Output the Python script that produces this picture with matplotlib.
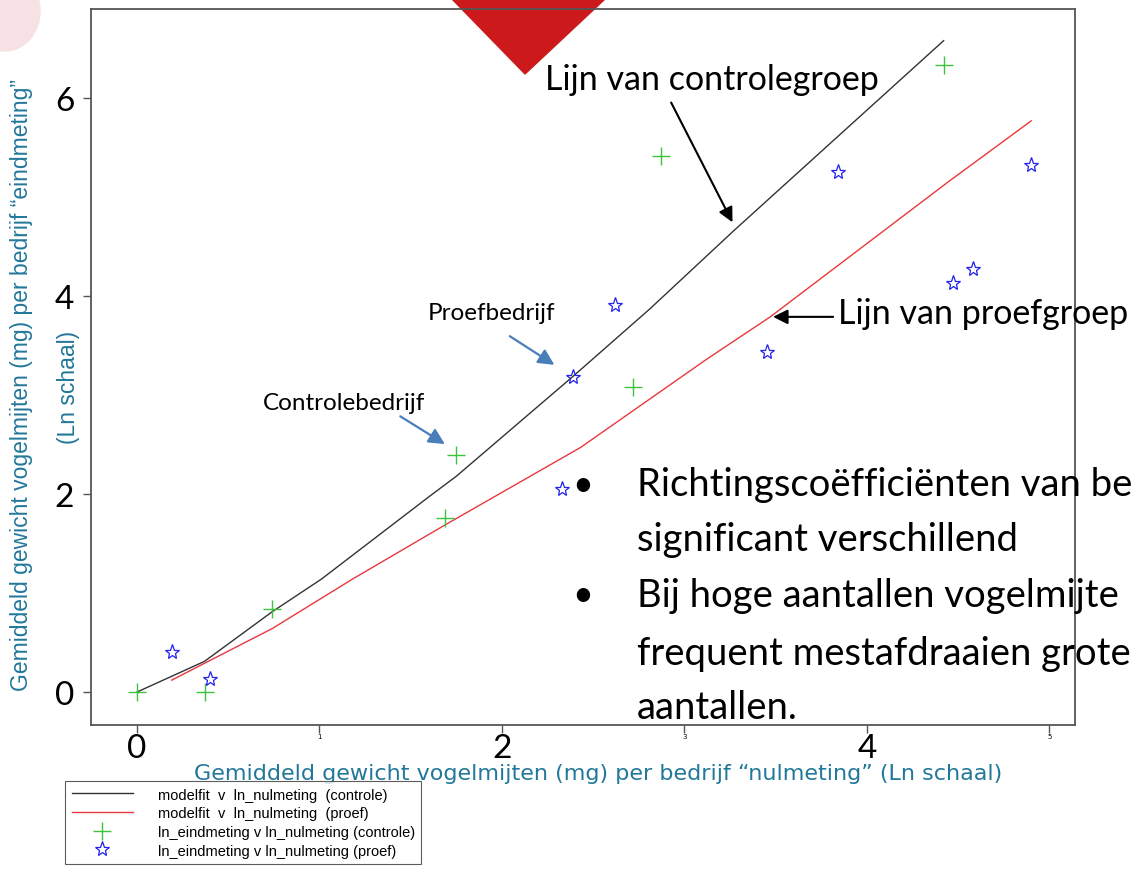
import matplotlib.pyplot as plt
from matplotlib.patches import Polygon, Ellipse

# === data (Ln schaal) ===
ctrl_fit_x = [0.0, 0.37, 0.74, 1.01, 1.605, 1.75, 2.39, 2.81, 3.27, 4.42]
ctrl_fit_y = [0.0, 0.31, 0.81, 1.14, 1.98, 2.18, 3.19, 3.87, 4.66, 6.58]

proef_fit_x = [0.19, 0.38, 0.74, 1.18, 1.69, 2.43, 2.81, 3.12, 3.47, 4.45, 4.90]
proef_fit_y = [0.12, 0.30, 0.64, 1.14, 1.69, 2.47, 2.96, 3.36, 3.79, 5.16, 5.77]

ctrl_x = [0.0, 0.37, 0.74, 1.69, 1.75, 2.72, 2.87, 4.42]
ctrl_y = [0.0, 0.0, 0.84, 1.76, 2.39, 3.08, 5.41, 6.33]

proef_x = [0.19, 0.40, 2.33, 2.39, 2.62, 3.45, 3.84, 4.47, 4.58, 4.90]
proef_y = [0.40, 0.13, 2.05, 3.18, 3.91, 3.44, 5.25, 4.13, 4.27, 5.32]

W, H = 1133, 870
def fx(px):
    return px / W
def fy(py):
    return 1 - py / H

teal = "#22789a"
hand = "Lato"

fig = plt.figure(figsize=(W / 100, H / 100), dpi=100)

# decoratie van de dia
fig.patches.append(Polygon([(fx(452), fy(0)), (fx(605), fy(0)), (fx(525), fy(75))],
                           closed=True, transform=fig.transFigure, color="#cc1a1c", zorder=-1))
fig.patches.append(Ellipse((fx(5), fy(12)), 70 / W, 80 / H, transform=fig.transFigure,
                           color="#f6e1e5", zorder=-1))

ax = fig.add_axes([fx(91), fy(726), fx(1075) - fx(91), fy(10) - fy(726)])
ax.set_facecolor("none")

ax.plot(ctrl_fit_x, ctrl_fit_y, color="#333333", lw=1.0, label="modelfit  v  ln_nulmeting  (controle)")
ax.plot(proef_fit_x, proef_fit_y, color="#e8383d", lw=1.0, label="modelfit  v  ln_nulmeting  (proef)")
ax.plot(ctrl_x, ctrl_y, ls="none", marker="+", ms=13, mew=1.0, color="#3cc43c",
        label="ln_eindmeting v ln_nulmeting (controle)")
ax.plot(proef_x, proef_y, ls="none", marker="*", ms=11, mew=0.9, mfc="none", color="#2222ee",
        label="ln_eindmeting v ln_nulmeting (proef)")

ax.set_xlim(-0.252, 5.14)
ax.set_ylim(-0.333, 6.9)

for s in ax.spines.values():
    s.set_color("#555555")
    s.set_linewidth(1.3)

ax.set_xticks([0, 1, 2, 3, 4, 5])
ax.set_xticklabels(["0", "1", "2", "3", "4", "5"])
for i, t in enumerate(ax.get_xticklabels()):
    if i % 2 == 0:
        t.set_fontsize(24)
        t.set_fontfamily(hand)
    else:
        t.set_fontsize(5)
ax.set_yticks([0, 2, 4, 6])
ax.set_yticklabels(["0", "2", "4", "6"], fontsize=24, fontfamily=hand)
ax.tick_params(axis="both", direction="out", length=6, width=1, color="#555555")
ax.tick_params(axis="x", pad=0)
ax.tick_params(axis="y", pad=6)

# aslabels
fig.text(fx(598), fy(774), "Gemiddeld gewicht vogelmijten (mg) per bedrijf \u201cnulmeting\u201d (Ln schaal)",
         ha="center", va="center", fontsize=16, color=teal, family="DejaVu Sans")
fig.text(fx(22), fy(385), "Gemiddeld gewicht vogelmijten (mg) per bedrijf \u201ceindmeting\u201d",
         ha="center", va="center", rotation=90, fontsize=16.5, color=teal, family="Liberation Sans")
fig.text(fx(68), fy(387), "(Ln schaal)",
         ha="center", va="center", rotation=90, fontsize=16.5, color=teal, family="Liberation Sans")

# annotaties
ax.annotate("", xy=(3.27, 4.72), xytext=(2.92, 5.98),
            arrowprops=dict(arrowstyle="-|>", color="black", lw=1.5, mutation_scale=22))
fig.text(fx(545), fy(80), "Lijn van controlegroep", ha="left", va="center", fontsize=24.5, family=hand)

ax.annotate("", xy=(3.47, 3.79), xytext=(3.83, 3.79),
            arrowprops=dict(arrowstyle="-|>", color="black", lw=1.5, mutation_scale=22))
fig.text(fx(838), fy(314), "Lijn van proefgroep", ha="left", va="center", fontsize=24.5, family=hand)

blue = "#4a7ebb"
ax.annotate("", xy=(proef_x[3] - 0.09, proef_y[3] + 0.11), xytext=(2.03, 3.61),
            arrowprops=dict(arrowstyle="-|>", color=blue, lw=1.6, mutation_scale=24))
fig.text(fx(492), fy(314), "Proefbedrijf", ha="center", va="center", fontsize=17.5, family=hand)

ax.annotate("", xy=(ctrl_x[4] - 0.05, ctrl_y[4] + 0.10), xytext=(1.43, 2.80),
            arrowprops=dict(arrowstyle="-|>", color=blue, lw=1.6, mutation_scale=24))
fig.text(fx(344), fy(404), "Controlebedrijf", ha="center", va="center", fontsize=17.5, family=hand)

# bullets
bullet_lines = [
    (485, True, "Richtingsco\u00ebffici\u00ebnten van be"),
    (540, False, "significant verschillend"),
    (596, True, "Bij hoge aantallen vogelmijte"),
    (654, False, "frequent mestafdraaien grote"),
    (708, False, "aantallen."),
]
for y, b, txt in bullet_lines:
    if b:
        fig.text(fx(583), fy(y), "\u2022", ha="center", va="center", fontsize=26, family=hand)
    fig.text(fx(637), fy(y), txt, ha="left", va="center", fontsize=27.5, family=hand)

# legenda
leg = fig.legend(loc="upper left", bbox_to_anchor=(fx(65), fy(782)),
                 prop={"family": "Liberation Sans", "size": 10.5}, frameon=True, fancybox=False,
                 edgecolor="#333333", handlelength=4.2, labelspacing=0.32, borderpad=0.45,
                 handletextpad=1.7, borderaxespad=0)
leg.get_frame().set_linewidth(0.8)

plt.savefig("out.png", dpi=100)
